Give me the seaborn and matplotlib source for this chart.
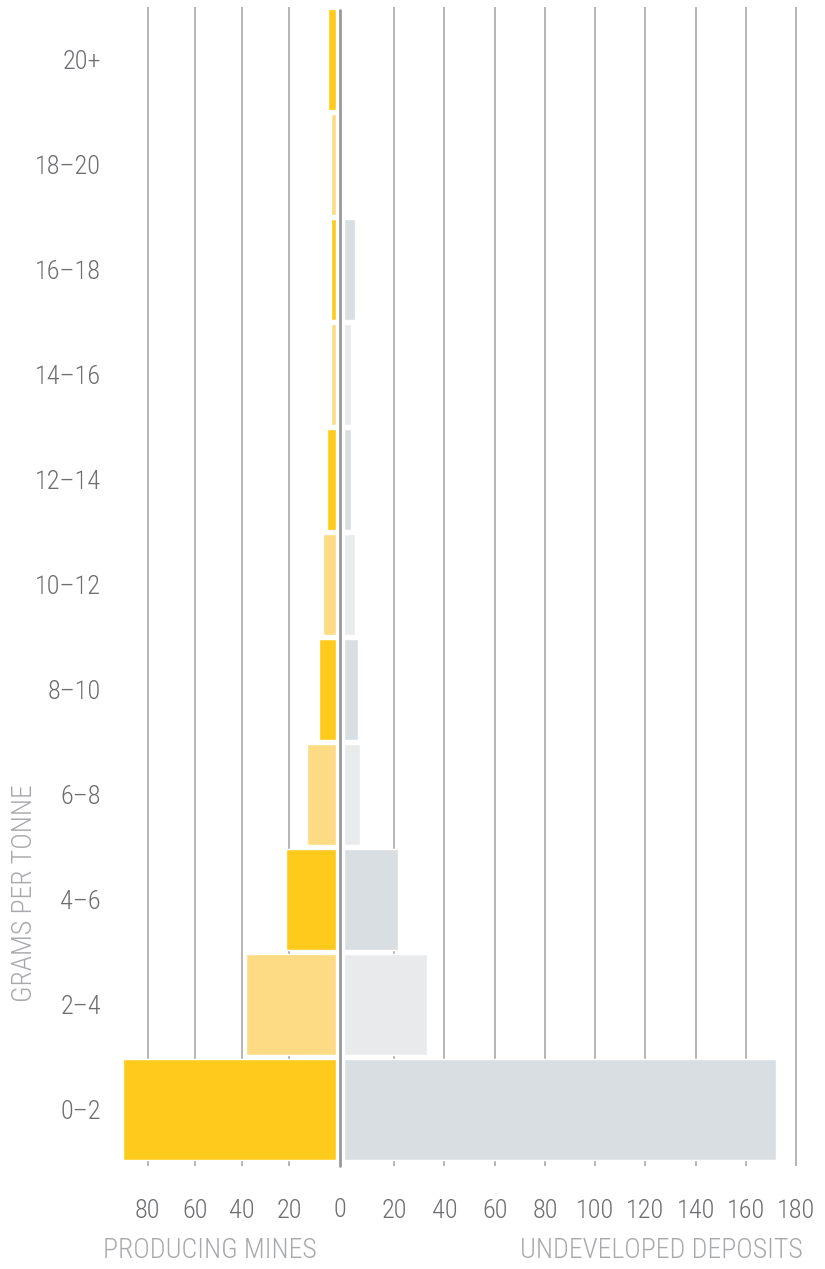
import matplotlib
matplotlib.use('Agg')
import matplotlib.pyplot as plt
from matplotlib import font_manager as fm
from matplotlib.lines import Line2D
import seaborn as sns
import pandas as pd

# grade bands, top to bottom
grades = ['20+', '18–20', '16–18', '14–16', '12–14', '10–12',
          '8–10', '6–8', '4–6', '2–4', '0–2']
producing = [3.4, 2.1, 2.1, 2.1, 3.8, 5.5, 7.2, 12.3, 21.3, 38.4, 90.7]
undeveloped = [0, 0, 4.4, 2.8, 2.8, 4.4, 5.6, 6.4, 21.5, 33.0, 172.0]

left_ticks = [20, 40, 60, 80]
right_ticks = [20, 40, 60, 80, 100, 120, 140, 160, 180]

yellow = ['#FECA1B', '#FDDB85']
grey = ['#D9DEE2', '#E9EAEC']


def pick_font(names):
    for n in names:
        try:
            fm.findfont(fm.FontProperties(family=n), fallback_to_default=False)
            return n
        except ValueError:
            pass
    return 'DejaVu Sans'


sns.set_style('white')
font = pick_font(['Liberation Sans Narrow', 'Roboto Condensed', 'Open Sans Condensed', 'Roboto'])
plt.rcParams['font.family'] = [font, 'DejaVu Sans']
plt.rcParams['font.weight'] = 'light'

tick_col = '#6d6e71'
label_col = '#a7a9ac'
grid_col = '#a9a9a9'

df = pd.DataFrame({'grade': grades, 'producing': producing, 'undeveloped': undeveloped})
left_pal = {g: yellow[i % 2] for i, g in enumerate(grades)}
right_pal = {g: grey[i % 2] for i, g in enumerate(grades)}

W, H = 825, 1269
fig = plt.figure(figsize=(W / 100, H / 100), dpi=100)

top_px, bot_px = 7, 1166
ax_h = (bot_px - top_px) / H
ax_y = 1 - bot_px / H
axl = fig.add_axes([112 / W, ax_y, (336 - 112) / W, ax_h])
axr = fig.add_axes([344 / W, ax_y, (815 - 344) / W, ax_h])

sns.barplot(data=df, x='producing', y='grade', hue='grade', palette=left_pal,
            order=grades, width=0.97, legend=False, ax=axl, saturation=1)
sns.barplot(data=df, x='undeveloped', y='grade', hue='grade', palette=right_pal,
            order=grades, width=0.97, legend=False, ax=axr, saturation=1)

ylim = (-0.5 + (bot_px - top_px) / 105.0, -0.5)
for ax in (axl, axr):
    ax.set_ylim(*ylim)
    ax.set_xlabel('')
    ax.set_ylabel('')
    sns.despine(ax=ax, left=True, bottom=True)
    ax.grid(axis='x', color=grid_col, linewidth=1.2)
    ax.set_axisbelow(True)
    ax.tick_params(axis='x', length=0, pad=24, labelsize=19, labelcolor=tick_col)

axl.set_xlim(95.2, 0)
axl.set_xticks(left_ticks)
axl.tick_params(axis='y', length=0, pad=8, labelsize=19, labelcolor=tick_col)

axr.set_xlim(0, 187.5)
axr.set_xticks(right_ticks)
axr.set_yticks([])

# centre line and its zero label
fig.add_artist(Line2D([340 / W, 340 / W], [ax_y, 1 - 10 / H],
                      color='#999999', linewidth=2))
fig.text(340 / W, 1 - 1210 / H, '0', ha='center', va='center',
         fontsize=19, color=tick_col)

fig.text(103 / W, 1 - 1251 / H, 'PRODUCING MINES', ha='left', va='center',
         fontsize=20, color=label_col)
fig.text(803 / W, 1 - 1251 / H, 'UNDEVELOPED DEPOSITS', ha='right', va='center',
         fontsize=20, color=label_col)
fig.text(25 / W, 1 - 893 / H, 'GRAMS PER TONNE', ha='center', va='center',
         rotation=90, fontsize=20, color=label_col)

fig.savefig('out.png', dpi=100)
plt.close(fig)
